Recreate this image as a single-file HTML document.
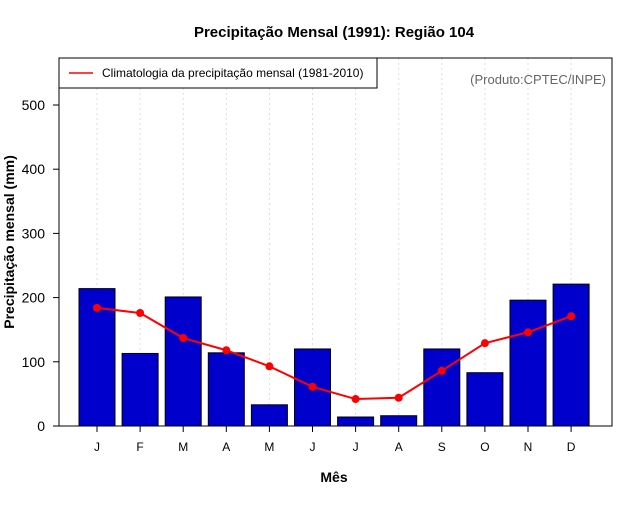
<!DOCTYPE html>
<html><head><meta charset="utf-8"><style>
body{margin:0;background:#fff;}
svg text{font-family:"Liberation Sans",sans-serif;}
</style></head><body>
<svg id="chart" width="640" height="500" xmlns="http://www.w3.org/2000/svg">
<text x="334" y="37" text-anchor="middle" font-size="15" font-weight="bold">Precipitação Mensal (1991): Região 104</text>
<text x="334" y="482" text-anchor="middle" font-size="14" font-weight="bold">Mês</text>
<text transform="translate(14,242) rotate(-90)" text-anchor="middle" font-size="14" font-weight="bold">Precipitação mensal (mm)</text>
<g id="grid"></g><g id="bars"></g><g id="line"></g><g id="axes"></g>
<rect x="59" y="58" width="553" height="368" fill="none" stroke="#000"/>
<g>
<rect x="59" y="58" width="318" height="30" fill="#fff" stroke="#000"/>
<line x1="69" y1="73" x2="93" y2="73" stroke="#ff0000" stroke-width="1.5"/>
<text x="102" y="77" font-size="12">Climatologia da precipitação mensal (1981-2010)</text>
</g>
<text x="606" y="84" text-anchor="end" font-size="13" fill="#666">(Produto:CPTEC/INPE)</text>
</svg>
<script>
const months=["J","F","M","A","M","J","J","A","S","O","N","D"];
const precip=[214,113,201,114,33,120,14,16,120,83,196,221];
const clim=[184,176,137,118,93,61,42,44,86,129,146,171];
const yTicks=[0,100,200,300,400,500];
const NS="http://www.w3.org/2000/svg";
const xS=i=>97+i*43.1;
const yS=v=>426-v*0.642;
function mk(t,a,p){const e=document.createElementNS(NS,t);for(const k in a)e.setAttribute(k,a[k]);p.appendChild(e);return e;}
const grid=document.getElementById('grid'),bars=document.getElementById('bars'),line=document.getElementById('line'),axes=document.getElementById('axes');
months.forEach((m,i)=>{
 const g=mk('line',{x1:xS(i),x2:xS(i),y1:58,y2:426,stroke:'#ddd','stroke-dasharray':'2,3'},grid);
 
 
 const b=mk('rect',{x:xS(i)-18,y:yS(precip[i]),width:36,height:yS(0)-yS(precip[i]),fill:'#0000cd',stroke:'#000'},bars);
 
 
 const tk=mk('line',{x1:xS(i),x2:xS(i),y1:426,y2:432,stroke:'#000'},axes);
 
 
 const tl=mk('text',{x:xS(i),y:451,'text-anchor':'middle','font-size':12},axes);
 tl.textContent=m;
 
 
});
const pl=mk('polyline',{points:clim.map((v,i)=>xS(i)+','+yS(v)).join(' '),fill:'none',stroke:'#ff0000','stroke-width':2},line);


clim.forEach((v,i)=>{
 const c=mk('circle',{cx:xS(i),cy:yS(v),r:4,fill:'#ff0000'},line);
 
 
});
yTicks.forEach(v=>{
 const t=mk('line',{x1:53,x2:59,y1:yS(v),y2:yS(v),stroke:'#000'},axes);
 
 
 const l=mk('text',{x:45,y:yS(v)+5,'text-anchor':'end','font-size':14},axes);
 l.textContent=v;
 
 
});
</script>
</body></html>
